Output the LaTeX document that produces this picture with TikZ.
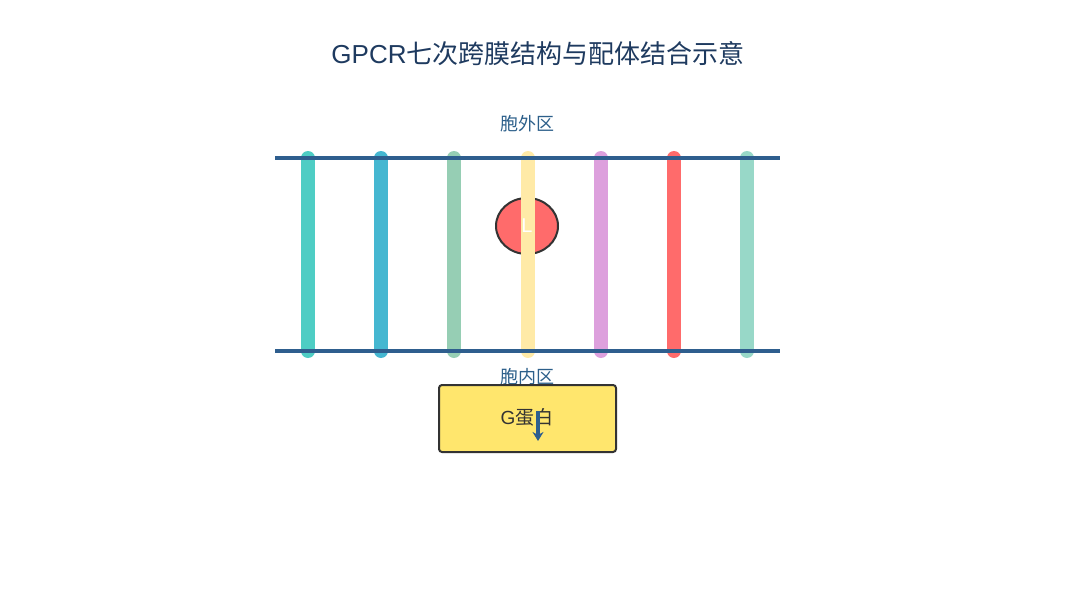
\documentclass[tikz,border=0pt]{standalone}
\usepackage{fontspec}
\usetikzlibrary{shapes.geometric,arrows.meta}
\setmainfont{Liberation Sans}
\newfontfamily\cjk{Noto Sans CJK SC}
\definecolor{memc}{HTML}{2E5E8E}
\definecolor{labc}{HTML}{2C5F8A}
\definecolor{titc}{HTML}{1E3A5F}
\definecolor{ligc}{HTML}{FF6B6B}
\definecolor{gc}{HTML}{FFE66D}
\begin{document}
\begin{tikzpicture}[x=1pt,y=-1pt,
  helix/.style={line width=14pt,line cap=round},
  mem/.style={line width=4pt,draw=memc},
  lab/.style={text=labc,font=\fontsize{18}{20}\selectfont\cjk}]
\useasboundingbox (0,0) rectangle (1076,607);
\node[text=titc,font=\fontsize{26}{30}\selectfont] (title) at (538,54) {GPCR{\cjk 七次跨膜结构与配体结合示意}};
\node[lab] (out) at (527,124) {胞外区};
\node[draw=black!80,line width=2pt,fill=ligc,ellipse,minimum width=62pt,minimum height=56pt,inner sep=0pt] (L) at (527,226) {};
\foreach \x/\c [count=\i] in {308/4ECDC4,381/45B7D1,454/96CEB4,528/FFEAA7,601/DDA0DD,674/FF6B6B,747/98D8C8}{
  \definecolor{hc}{HTML}{\c}
  \coordinate (t\i) at (\x,158); \coordinate (b\i) at (\x,351);
  \draw[helix,draw=hc] (t\i) -- (b\i);
}
\node[text=white,font=\fontsize{20}{22}\selectfont] at (L) {L};
\coordinate (ml) at (275,158); \coordinate (mr) at (780,158);
\coordinate (nl) at (275,351); \coordinate (nr) at (780,351);
\draw[mem] (ml) -- (mr);
\draw[mem] (nl) -- (nr);
\node[lab] (in) at (527,377) {胞内区};
\node[draw=black!80,line width=2pt,fill=gc,rounded corners=3pt,minimum width=177pt,minimum height=67pt] (G) at (527.5,418.5) {};
\node[text=black!80,font=\fontsize{19}{22}\selectfont] at (527,417) {G{\cjk 蛋白}};
\coordinate (a1) at (538,411); \coordinate (a2) at (538,441);
\draw[memc,line width=4pt,-{Stealth[length=9pt,width=11pt]}] (a1) -- (a2);
\end{tikzpicture}
\end{document}
